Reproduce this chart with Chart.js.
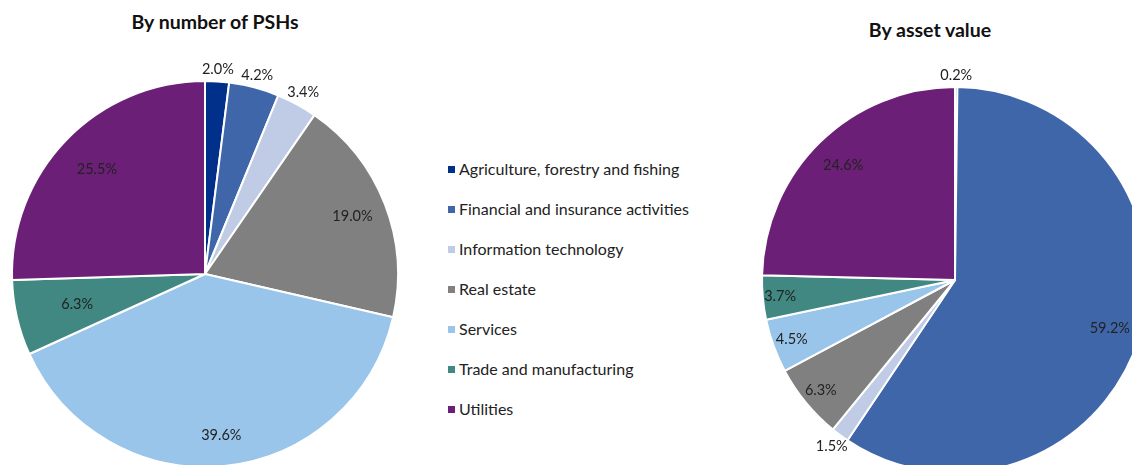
<!DOCTYPE html>
<html lang="en">
<head>
    <meta charset="UTF-8">
    <title>PSHs by sector</title>
    <script src="https://cdn.jsdelivr.net/npm/chart.js@4.4.1/dist/chart.umd.min.js"></script>
    <style>
        html, body { margin: 0; padding: 0; background: #fff; overflow: hidden; }
        #page { position: relative; width: 1132px; height: 465px; overflow: hidden; font-family: "Lato", "DejaVu Sans", sans-serif; }
        .title { position: absolute; font-weight: bold; font-size: 19.5px; color: #111; text-align: center; line-height: 24px; }
        .box { position: absolute; }
        #legend { position: absolute; left: 448px; top: 158px; }
        #legend .item { height: 40px; display: flex; align-items: flex-start; font-size: 16px; line-height: 22px; color: #222; }
        #legend .swatch { width: 7px; height: 7px; margin: 8px 4px 0 0; }
    </style>
</head>
<body>
<div id="page">
    <div class="title" style="left:100px; top:10px; width:230px;">By number of PSHs</div>
    <div class="title" style="left:820px; top:18px; width:220px;">By asset value</div>
    <div class="box" style="left:0; top:0; width:430px; height:500px;"><canvas id="countChart"></canvas></div>
    <div class="box" style="left:740px; top:0; width:440px; height:500px;"><canvas id="valueChart"></canvas></div>
    <div id="legend"></div>
</div>
<script>
    const sectors = [
        'Agriculture, forestry and fishing',
        'Financial and insurance activities',
        'Information technology',
        'Real estate',
        'Services',
        'Trade and manufacturing',
        'Utilities'
    ];
    const sectorColors = ['#00308a', '#4066aa', '#c0cce5', '#808080', '#98c5e9', '#418782', '#6b1f76'];

    // share of PSHs (%)
    const byNumber = [2.0, 4.2, 3.4, 19.0, 39.6, 6.3, 25.5];
    // share of asset value (%)
    const byValue = [0.2, 59.2, 1.5, 6.3, 4.5, 3.7, 24.6];

    // slices smaller than this get their label outside the pie
    const outsideBelow = 3.5;

    const sliceLabels = {
        id: 'sliceLabels',
        afterDatasetsDraw(chart, args, opts) {
            const ctx = chart.ctx;
            const meta = chart.getDatasetMeta(0);
            const values = chart.data.datasets[0].data;
            ctx.save();
            ctx.font = '14.5px Lato, "DejaVu Sans", sans-serif';
            ctx.fillStyle = '#222';
            ctx.textAlign = 'center';
            ctx.textBaseline = 'middle';
            meta.data.forEach((arc, i) => {
                const p = arc.getProps(['x', 'y', 'startAngle', 'endAngle', 'outerRadius'], true);
                const mid = (p.startAngle + p.endAngle) / 2;
                const cx = Math.cos(mid), cy = Math.sin(mid);
                const text = values[i].toFixed(1) + '%';
                let d;
                if (values[i] < outsideBelow || (opts.outside || []).includes(i)) {
                    const w = ctx.measureText(text).width / 2 + 1;
                    const h = 8;
                    const edge = Math.min(Math.abs(cx) > 1e-6 ? w / Math.abs(cx) : 1e9,
                                          Math.abs(cy) > 1e-6 ? h / Math.abs(cy) : 1e9);
                    d = p.outerRadius + 4 + edge;
                } else {
                    d = p.outerRadius * (opts.insideRadius[i] || 0.8);
                }
                ctx.fillText(text, p.x + cx * d, p.y + cy * d);
            });
            ctx.restore();
        }
    };

    function makePie(id, values, padding, insideRadius, outside) {
        return new Chart(document.getElementById(id), {
            type: 'pie',
            data: {
                labels: sectors,
                datasets: [{
                    data: values,
                    backgroundColor: sectorColors,
                    borderColor: '#ffffff',
                    borderWidth: 2
                }]
            },
            options: {
                responsive: true,
                maintainAspectRatio: false,
                animation: false,
                layout: { padding: padding },
                plugins: {
                    legend: { display: false },
                    tooltip: { enabled: false },
                    sliceLabels: { insideRadius: insideRadius, outside: outside }
                }
            },
            plugins: [sliceLabels]
        });
    }

    // the 4.2% slice on the left is labelled outside as well
    makePie('countChart', byNumber, { left: 11, top: 80, right: 31, bottom: 32 },
        [0, 0, 0, 0.82, 0.84, 0.68, 0.78], [1]);
    makePie('valueChart', byValue, { left: 21, top: 86, right: 31, bottom: 26 },
        [0, 0.84, 0, 0.9, 0.9, 0.91, 0.83], []);

    // shared legend
    const legend = document.getElementById('legend');
    sectors.forEach((name, i) => {
        const item = document.createElement('div');
        item.className = 'item';
        const sw = document.createElement('span');
        sw.className = 'swatch';
        sw.style.background = sectorColors[i];
        const label = document.createElement('span');
        label.textContent = name;
        item.appendChild(sw);
        item.appendChild(label);
        legend.appendChild(item);
    });
</script>
</body>
</html>
